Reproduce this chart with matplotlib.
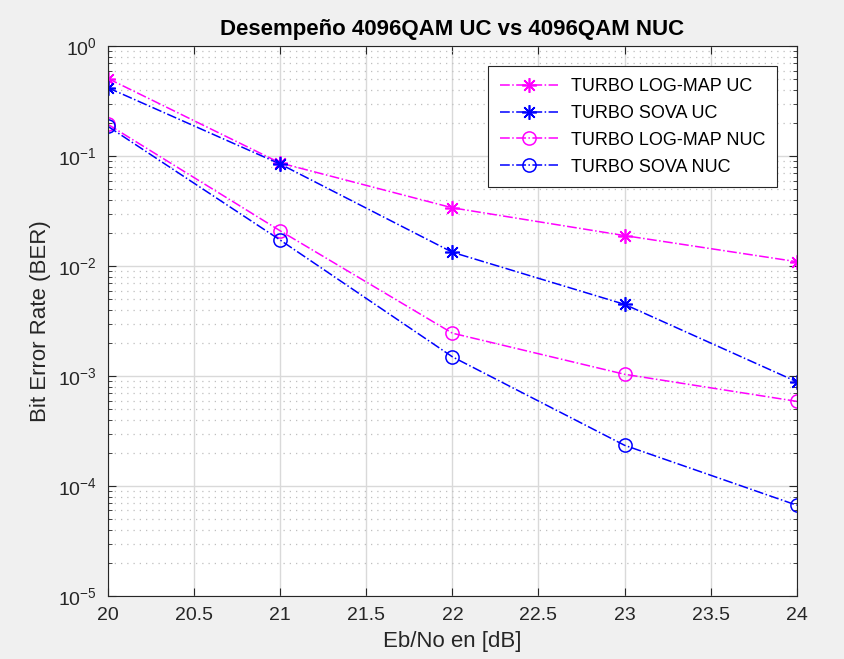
import numpy as np
import matplotlib.pyplot as plt
from matplotlib.ticker import LogLocator, NullFormatter

plt.rcParams['font.family'] = ['Liberation Sans', 'DejaVu Sans']
plt.rcParams['mathtext.fontset'] = 'custom'
plt.rcParams['mathtext.rm'] = 'Liberation Sans'
plt.rcParams['mathtext.it'] = 'Liberation Sans:italic'

ebno = [20, 21, 22, 23, 24]
logmap_uc = [0.51, 0.087, 0.034, 0.019, 0.011]
sova_uc = [0.42, 0.085, 0.0134, 0.0045, 0.00089]
logmap_nuc = [0.195, 0.021, 0.00246, 0.00104, 0.00059]
sova_nuc = [0.187, 0.0173, 0.0015, 0.000235, 0.000067]

fig = plt.figure(figsize=(8.44, 6.59), dpi=100, facecolor='#f0f0f0')
ax = fig.add_axes([0.128, 0.0956, 0.816, 0.834])

ast = (8, 2, 0)
ax.semilogy(ebno, logmap_uc, '-.', color='#ff00ff', marker=ast, ms=10.5, mew=1.2, lw=1.1,
            label='TURBO LOG-MAP UC')
ax.semilogy(ebno, sova_uc, '-.', color='#0000ff', marker=ast, ms=10.5, mew=1.2, lw=1.1,
            label='TURBO SOVA UC')
ax.semilogy(ebno, logmap_nuc, '-.', color='#ff00ff', marker='o', ms=9.5, mfc='none', mew=1.1, lw=1.1,
            label='TURBO LOG-MAP NUC')
ax.semilogy(ebno, sova_nuc, '-.', color='#0000ff', marker='o', ms=9.5, mfc='none', mew=1.1, lw=1.1,
            label='TURBO SOVA NUC')

ax.set_xlim(20, 24)
ax.set_ylim(1e-5, 1)
ax.set_xticks(np.arange(20, 24.01, 0.5))
ax.set_xticklabels(['20', '20.5', '21', '21.5', '22', '22.5', '23', '23.5', '24'])
ax.yaxis.set_minor_locator(LogLocator(base=10, subs=np.arange(2, 10)))
ax.yaxis.set_minor_formatter(NullFormatter())

ax.grid(True, which='major', color='#d9d9d9', linewidth=1, linestyle='-')
ax.grid(True, which='minor', axis='y', color='#bfbfbf', linewidth=0.9, linestyle=(0, (1, 4)))
ax.set_axisbelow(True)
ax.tick_params(which='both', direction='in', top=True, right=True, labelsize=14, colors='#262626')
ax.tick_params(which='major', length=6)
ax.tick_params(which='minor', length=3)
ax.tick_params(axis='x', pad=8)
ax.tick_params(axis='y', pad=8)
for s in ax.spines.values():
    s.set_color('#262626')

ax.set_xlabel('Eb/No en [dB]', fontsize=16, color='#262626', labelpad=5)
ax.set_ylabel('Bit Error Rate (BER)', fontsize=16, color='#262626', labelpad=5)
ax.set_title('Desempeño 4096QAM UC vs 4096QAM NUC', fontsize=16, fontweight='bold', pad=8)

leg = ax.legend(loc='upper right', bbox_to_anchor=(0.971, 0.964), borderaxespad=0, fontsize=13,
                fancybox=False, framealpha=1, edgecolor='#262626', borderpad=0.65,
                labelspacing=0.55, handlelength=3.2, handletextpad=0.7)
leg.get_frame().set_linewidth(0.8)

plt.savefig('out.png', dpi=100, facecolor=fig.get_facecolor())
